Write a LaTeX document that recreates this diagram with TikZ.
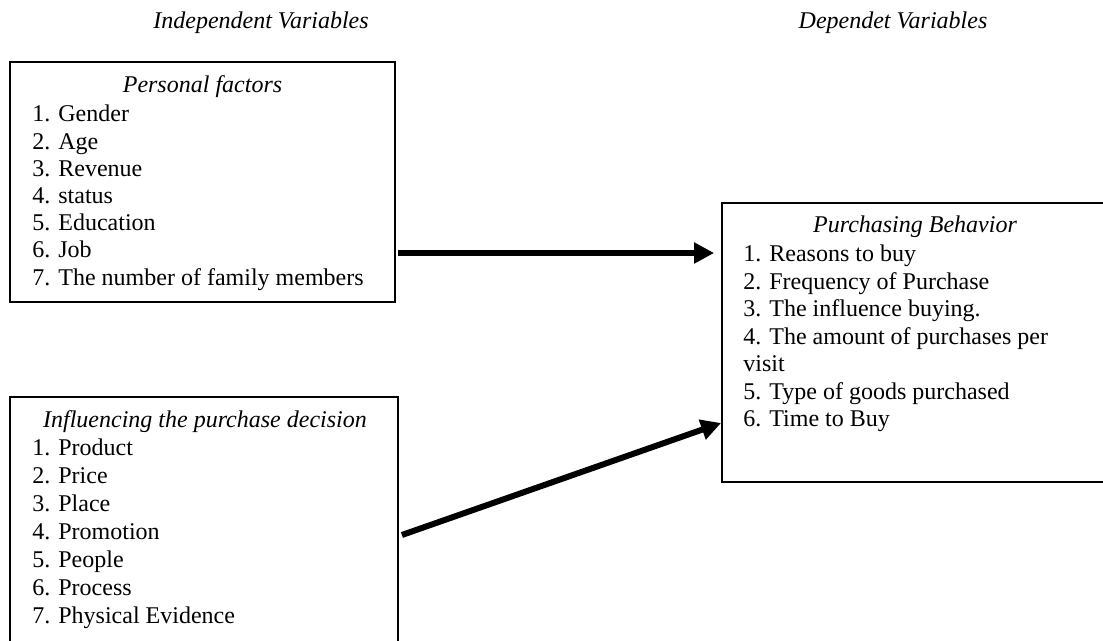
\documentclass[tikz,border=0pt]{standalone}
\usepackage{fontspec}
\setmainfont{Liberation Serif}
\usetikzlibrary{arrows.meta,positioning}
\begin{document}
\begin{tikzpicture}[x=0.5pt,y=-0.5pt,font=\fontsize{12}{13.8}\selectfont]
\tikzstyle{bx} = [draw=black,line width=0.9pt,rectangle,inner sep=0pt] %box
\tikzstyle{hd} = [font=\fontsize{12}{13.8}\selectfont\itshape,anchor=base,inner sep=0pt] %heading
\tikzstyle{it} = [anchor=base west,inner sep=0pt] %list item
\tikzstyle{ar} = [line width=3pt,-{Triangle[length=10pt,width=10pt]}] %arrow
\useasboundingbox (0,0) rectangle (1103,641);
\clip (0,0) rectangle (1103,641);
\node[hd](iv)at(261,29){Independent Variables};
\node[hd](dv)at(893,29){Dependet Variables};
\node[bx,minimum width=192.5pt,minimum height=120pt](pf)at(202.5,182){};
\node[bx,minimum width=194pt,minimum height=131.5pt](id)at(204,528.5){};
\node[bx,minimum width=194pt,minimum height=139.5pt](pb)at(916,342.5){};
\node[hd](pft)at(202.5,93){Personal factors};
\node[hd](idt)at(205,428){Influencing the purchase decision};
\node[hd](pbt)at(915,233){Purchasing Behavior};
\foreach \t [count=\i] in {Gender,Age,Revenue,status,Education,Job,The number of family members}
  \node[it](pf\i)at(32,{122+27.2*(\i-1)}){\i. \t};
\foreach \t [count=\i] in {Product,Price,Place,Promotion,People,Process,Physical Evidence}
  \node[it](id\i)at(32,{456+27.9*(\i-1)}){\i. \t};
\foreach \t [count=\i] in {1. Reasons to buy,2. Frequency of Purchase,3. The influence buying.,4. The amount of purchases per,visit,5. Type of goods purchased,6. Time to Buy}
  \node[it](pb\i)at(743,{262+27.5*(\i-1)}){\t};
\draw[ar]([xshift=1pt,yshift=-35.5pt]pf.east)--([xshift=-3.5pt,yshift=44.75pt]pb.west);
\draw[ar]([xshift=1.5pt,yshift=-3.25pt]id.east)--([yshift=-40.25pt]pb.west);
\end{tikzpicture}
\end{document}
